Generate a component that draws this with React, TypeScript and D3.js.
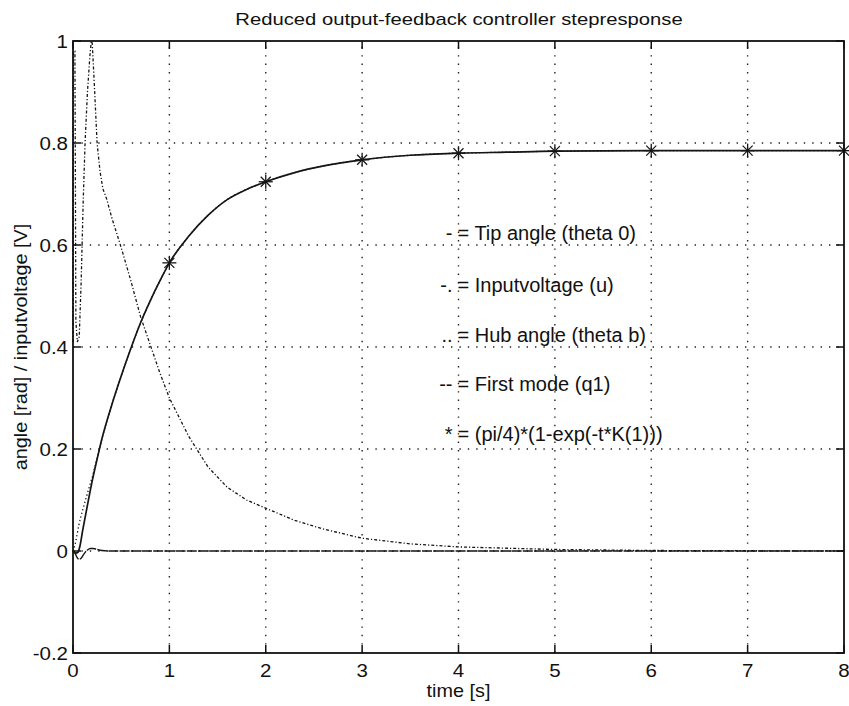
import React from "react";
import * as d3 from "d3";

// ---- data ----
const tTip = [0, 0.03, 0.05, 0.07, 0.1, 0.15, 0.2, 0.25, 0.3, 0.4, 0.5, 0.6, 0.7, 0.8, 0.9, 1.0, 1.2, 1.4, 1.6, 1.8, 2.0, 2.3, 2.6, 3.0, 3.5, 4.0, 4.5, 5, 6, 7, 8];
const vTip = [0, -0.004, -0.003, 0.008, 0.04, 0.09, 0.138, 0.18, 0.22, 0.285, 0.343, 0.397, 0.447, 0.49, 0.529, 0.565, 0.617, 0.658, 0.689, 0.709, 0.724, 0.742, 0.755, 0.767, 0.776, 0.78, 0.782, 0.784, 0.785, 0.785, 0.785];

const tHub = [0, 0.02, 0.04, 0.06, 0.08, 0.1, 0.13, 0.16, 0.2, 0.25, 0.3, 0.4, 0.5, 0.6, 0.7, 0.8, 0.9, 1.0, 1.2, 1.4, 1.6, 1.8, 2.0, 2.3, 2.6, 3.0, 3.5, 4.0, 4.5, 5, 6, 7, 8];
const vHub = [0, 0.012, 0.03, 0.05, 0.066, 0.08, 0.1, 0.12, 0.145, 0.182, 0.22, 0.285, 0.343, 0.397, 0.447, 0.49, 0.529, 0.565, 0.617, 0.658, 0.689, 0.709, 0.724, 0.742, 0.755, 0.767, 0.776, 0.78, 0.782, 0.784, 0.785, 0.785, 0.785];

const tU = [0, 0.005, 0.02, 0.03, 0.045, 0.065, 0.085, 0.105, 0.125, 0.15, 0.175, 0.19, 0.2, 0.22, 0.25, 0.28, 0.31, 0.35, 0.4, 0.5, 0.6, 0.7, 0.8, 0.9, 1.0, 1.2, 1.4, 1.6, 1.8, 2.0, 2.3, 2.6, 3.0, 3.5, 4, 5, 6, 8];
const vU = [0.41, 0.98, 0.98, 0.45, 0.41, 0.42, 0.53, 0.68, 0.8, 0.9, 0.97, 1.0, 0.995, 0.92, 0.8, 0.745, 0.71, 0.69, 0.655, 0.595, 0.53, 0.46, 0.405, 0.35, 0.3, 0.225, 0.165, 0.125, 0.1, 0.084, 0.06, 0.043, 0.025, 0.014, 0.008, 0.003, 0.001, 0];

const tQ = [0, 0.02, 0.04, 0.06, 0.08, 0.1, 0.12, 0.15, 0.18, 0.21, 0.25, 0.3, 0.4, 0.6, 1, 8];
const vQ = [0, -0.004, -0.012, -0.016, -0.015, -0.01, -0.004, 0.002, 0.005, 0.005, 0.003, 0.001, 0, 0, 0, 0];

const tStar = [1, 2, 3, 4, 5, 6, 7, 8];
const vStar = [0.565, 0.724, 0.767, 0.78, 0.784, 0.785, 0.785, 0.785];

const xTicks = [0, 1, 2, 3, 4, 5, 6, 7, 8];
const yTicks = [-0.2, 0, 0.2, 0.4, 0.6, 0.8, 1];

const legendPrefix = ["-", "-.", "..", "--", "*"];
const legendLabel = [
  "= Tip angle (theta 0)",
  "= Inputvoltage (u)",
  "= Hub angle (theta b)",
  "= First mode (q1)",
  "= (pi/4)*(1-exp(-t*K(1)))",
];
const legendY = [0.61, 0.508, 0.41, 0.314, 0.216];
const legendX = 4;

const title = "Reduced output-feedback controller stepresponse";
const xLabel = "time [s]";
const yLabel = "angle [rad] / inputvoltage [V]";

// ---- layout ----
const W = 849, H = 706;
const L = 73, R = 844, T = 41, B = 653;
const FONT = "'Liberation Sans', Arial, Helvetica, sans-serif";

const x = d3.scaleLinear().domain([0, 8]).range([L, R]);
const y = d3.scaleLinear().domain([-0.2, 1]).range([B, T]);

const zip = (ts: number[], vs: number[]) => ts.map((t, i) => [t, vs[i]] as [number, number]);
const line = d3.line<[number, number]>().x(d => x(d[0])).y(d => y(d[1]));
const smooth = d3.line<[number, number]>().x(d => x(d[0])).y(d => y(d[1])).curve(d3.curveMonotoneX);

function Txt(props: { x: number; y: number; anchor?: string; children: any; rotate?: number; size?: number; sx?: number }) {
  const { anchor = "start", rotate = 0, size = 18, sx = 1.12 } = props;
  return (
    <text
      transform={`translate(${props.x},${props.y}) rotate(${rotate}) scale(${sx},1)`}
      textAnchor={anchor}
      fontFamily={FONT}
      fontSize={size}
      fill="#111"
    >
      {props.children}
    </text>
  );
}

export default function App() {
  const tick = 8;
  const ink = "#151515";
  return (
    <svg width={W} height={H} style={{ position: "absolute", left: 0, top: 0, background: "#fff" }}>
      <rect x={0} y={0} width={W} height={H} fill="#fff" />
      {/* grid */}
      <g stroke="#222" strokeWidth={1.4} strokeDasharray="1.4,7" fill="none">
        {xTicks.slice(1, -1).map(t => (
          <line key={"gx" + t} x1={x(t)} x2={x(t)} y1={B} y2={T} />
        ))}
        {yTicks.slice(1, -1).map(v => (
          <line key={"gy" + v} x1={L} x2={R} y1={y(v)} y2={y(v)} />
        ))}
      </g>
      {/* curves */}
      <g fill="none" stroke={ink}>
        <path d={line(zip(tU, vU)) || ""} strokeWidth={1.3} strokeDasharray="3,2,1.2,2" />
        <path d={smooth(zip(tHub, vHub)) || ""} strokeWidth={1.3} strokeDasharray="1.3,2.5" />
        <path d={smooth(zip(tQ, vQ)) || ""} strokeWidth={1.4} strokeDasharray="10,1.2" />
        <path d={smooth(zip(tTip, vTip)) || ""} strokeWidth={1.7} />
      </g>
      {/* asterisk markers */}
      <g stroke={ink} strokeWidth={1.3}>
        {zip(tStar, vStar).map(([t, v], i) => {
          const cx = x(t), cy = y(v), r = 7, d = 5;
          return (
            <g key={"s" + i}>
              <line x1={cx - r} x2={cx + r} y1={cy} y2={cy} />
              <line x1={cx} x2={cx} y1={cy - r} y2={cy + r} />
              <line x1={cx - d} x2={cx + d} y1={cy - d} y2={cy + d} />
              <line x1={cx - d} x2={cx + d} y1={cy + d} y2={cy - d} />
            </g>
          );
        })}
      </g>
      {/* axes box */}
      <rect x={L} y={T} width={R - L} height={B - T} fill="none" stroke="#111" strokeWidth={1.8} />
      <g stroke="#111" strokeWidth={1.5}>
        {xTicks.map(t => (
          <g key={"tx" + t}>
            <line x1={x(t)} x2={x(t)} y1={B} y2={B - tick} />
            <line x1={x(t)} x2={x(t)} y1={T} y2={T + tick} />
          </g>
        ))}
        {yTicks.map(v => (
          <g key={"ty" + v}>
            <line x1={L} x2={L + tick} y1={y(v)} y2={y(v)} />
            <line x1={R} x2={R - tick} y1={y(v)} y2={y(v)} />
          </g>
        ))}
      </g>
      {/* tick labels */}
      {xTicks.map(t => (
        <Txt key={"lx" + t} x={x(t)} y={677} anchor="middle" size={19} sx={1.08}>{String(t)}</Txt>
      ))}
      {yTicks.map(v => (
        <Txt key={"ly" + v} x={L - 5} y={y(v) + 7} anchor="end" size={19} sx={1.08}>{String(+v.toFixed(1))}</Txt>
      ))}
      {/* labels */}
      <Txt x={(L + R) / 2 + 0.5} y={25} anchor="middle" size={17} sx={1.19}>{title}</Txt>
      <Txt x={(L + R) / 2} y={697} anchor="middle" size={18} sx={1.1}>{xLabel}</Txt>
      <Txt x={27} y={(T + B) / 2} anchor="middle" rotate={-90} size={18} sx={1.1}>{yLabel}</Txt>
      {/* in-plot legend text */}
      {legendLabel.map((s, i) => (
        <g key={"lg" + i}>
          <Txt x={x(legendX) - 6} y={y(legendY[i])} anchor="end" size={20} sx={1}>{legendPrefix[i]}</Txt>
          <Txt x={x(legendX) - 1} y={y(legendY[i])} anchor="start" size={20} sx={1}>{s}</Txt>
        </g>
      ))}
    </svg>
  );
}
